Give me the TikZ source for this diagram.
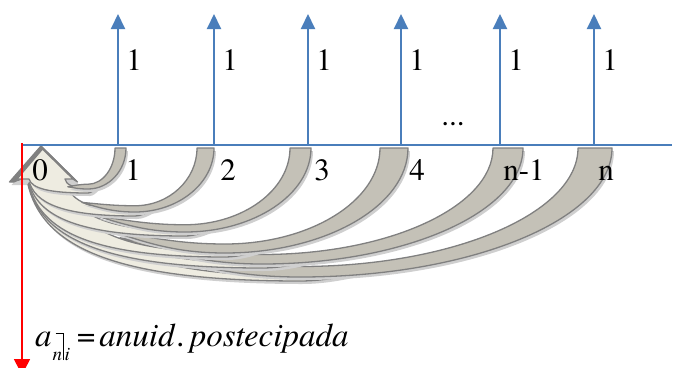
\documentclass[tikz,border=0pt]{standalone}
\usepackage{fontspec}
\setmainfont{texgyretermes}[Extension=.otf, UprightFont=*-regular, ItalicFont=*-italic, BoldFont=*-bold, BoldItalicFont=*-bolditalic]
\usetikzlibrary{arrows.meta}
\definecolor{axblue}{HTML}{4A7EBB}
\definecolor{facegray}{HTML}{C4C1B7}
\definecolor{facebeige}{HTML}{EEECE1}
\definecolor{edgegray}{HTML}{808080}
\definecolor{shadowgray}{HTML}{CFCFCF}
\definecolor{axred}{HTML}{FF0000}
\newcommand\backshape[1]{%
 \path[#1] (\xr,148) .. controls (\xr,\ca) and (\cb,\yb) .. (\xm,\yb)
   .. controls (\cc,\yb) and (\cd,\ce) .. (\xs,\ys)
   .. controls (\cf,\cg) and (\ch,\yt) .. (\xm,\yt)
   .. controls (\ci,\yt) and (\xl,\cj) .. (\xl,148) -- cycle;}
\newcommand\frontshape[1]{%
 \path[#1] (\xa,\hy) .. controls (\da,\db) and (\dc,\yo) .. (\xm,\yo)
   .. controls (\dd,\yo) and (\de,\dff) .. (\xe,\ye)
   .. controls (\de,\ye) and (\dd,\yi) .. (\xm,\yi)
   .. controls (\dg,\yi) and (\dh,\di) .. (\xbb,\hy)
   -- (\hr,\hy) -- (\tipx,\tipy) -- (\hl,\hy) -- cycle;}
\tikzset{
  upar/.style={axblue, line width=2pt, -{Triangle[width=14pt,length=15pt]}},
  lab/.style={font=\fontsize{31}{31}\selectfont, inner sep=0pt, anchor=base},
  faceback/.style={fill=facegray, draw=edgegray, line width=1.3pt, line join=round},
  facefront/.style={fill=facebeige, draw=edgegray, line width=1.3pt, line join=round},
  shade/.style={fill=shadowgray, shift={(2,3)}}
}
\begin{document}
\begin{tikzpicture}[x=1pt,y=-1pt]
\useasboundingbox (0,0) rectangle (677,367);
% curved arrows, largest first
\foreach \xl/\xr/\xm/\yb/\j in {578/612/300/277/0, 493/523/262/264/1, 380/408/225/253/2, 290/311/185/232/3, 197/214/135/212/4, 115/126/88/189/5}{
  \pgfmathsetmacro\w{\xr-\xl}
  \pgfmathsetmacro\t{0.25*\w+2}
  \pgfmathsetmacro\yt{\yb-\t}
  \pgfmathsetmacro\xs{42+0.3*(\xm-42)+12}
  \pgfmathsetmacro\ys{\yb-0.32*(\yb-182)}
  \pgfmathsetmacro\ca{148+0.55*(\yb-148)}
  \pgfmathsetmacro\cb{\xm+0.55*(\xr-\xm)}
  \pgfmathsetmacro\cc{\xm-0.4*(\xm-\xs)}
  \pgfmathsetmacro\cd{\xs+0.35*(\xm-\xs)}
  \pgfmathsetmacro\ce{\ys+0.6*(\yb-\ys)}
  \pgfmathsetmacro\cf{\xs+0.35*(\xm-\xs)}
  \pgfmathsetmacro\cg{\ys+0.5*(\yt-\ys)}
  \pgfmathsetmacro\ch{\xm-0.4*(\xm-\xs)}
  \pgfmathsetmacro\ci{\xm+0.55*(\xl-\xm)}
  \pgfmathsetmacro\cj{148+0.55*(\yt-148)}
  % head and front face
  \pgfmathsetmacro\cx{43.5+0.3*\j}
  \pgfmathsetmacro\hy{182-0.6*\j}
  \pgfmathsetmacro\hw{34-1.2*\j}
  \pgfmathsetmacro\xa{\cx-16}
  \pgfmathsetmacro\xbb{\cx+20}
  \pgfmathsetmacro\yo{\yb+4}
  \pgfmathsetmacro\yi{\yb-1}
  \pgfmathsetmacro\xe{\xm+0.45*(\xr-\xm)}
  \pgfmathsetmacro\ye{148+0.89*(\yb-148)-3}
  \pgfmathsetmacro\da{\xa+0.05*(\xm-\xa)}
  \pgfmathsetmacro\db{\hy+0.68*(\yo-\hy)}
  \pgfmathsetmacro\dc{\xa+0.34*(\xm-\xa)}
  \pgfmathsetmacro\dd{\xm+0.35*(\xe-\xm)}
  \pgfmathsetmacro\de{\xe-0.35*(\xe-\xm)}
  \pgfmathsetmacro\dff{\ye+1}
  \pgfmathsetmacro\dg{\xbb+0.3*(\xm-\xbb)}
  \pgfmathsetmacro\dh{\xbb+0.05*(\xm-\xbb)}
  \pgfmathsetmacro\di{\hy+0.6*(\yi-\hy)}
  \pgfmathsetmacro\hr{\cx+\hw}
  \pgfmathsetmacro\hl{\cx-\hw}
  \pgfmathsetmacro\tipx{\cx-2.5}
  \pgfmathsetmacro\tipy{146+0.6*\j}
  \frontshape{shade}
  \frontshape{facefront}
  \backshape{shade}
  \backshape{faceback}
}
% axis
\coordinate (a0) at (21,145);
\coordinate (a1) at (672,145);
\draw[axblue, line width=2pt] (a0) -- (a1);
% payments
\foreach \i/\x in {1/118, 2/214, 3/308, 4/401, 5/500, 6/594}{
  \coordinate (b\i) at (\x,145);
  \coordinate (u\i) at (\x,14);
  \draw[upar] (b\i) -- (u\i);
  \node[lab] (p\i) at (\x+16,70) {1};
}
\node[lab] (dots) at (453,125) {...};
% time labels
\node[lab] (l0) at (40,180) {0};
\node[lab] (l1) at (133,180) {1};
\node[lab] (l2) at (228,180) {2};
\node[lab] (l3) at (322,180) {3};
\node[lab] (l4) at (417,180) {4};
\node[lab] (l5) at (524,180) {n-1};
\node[lab] (l6) at (606,180) {n};
% red arrow
\coordinate (r0) at (22,143);
\coordinate (r1) at (22,375);
\draw[axred, line width=1.5pt, -{Triangle[width=16pt,length=16pt]}] (r0) -- (r1);
% formula
\node[inner sep=0pt, anchor=base west] (f) at (35,346) {\fontsize{33}{33}\selectfont\itshape a\kern1pt\raisebox{-14pt}{\fontsize{19}{19}\selectfont\itshape\rlap{\kern3pt\rule[26.5pt]{8pt}{0.8pt}}n\kern0.5pt\rule{0.8pt}{27.3pt}\kern1pt i}\kern7pt\upshape=\kern4pt\itshape anuid\kern3pt.\kern4pt postecipada};
\end{tikzpicture}
\end{document}
